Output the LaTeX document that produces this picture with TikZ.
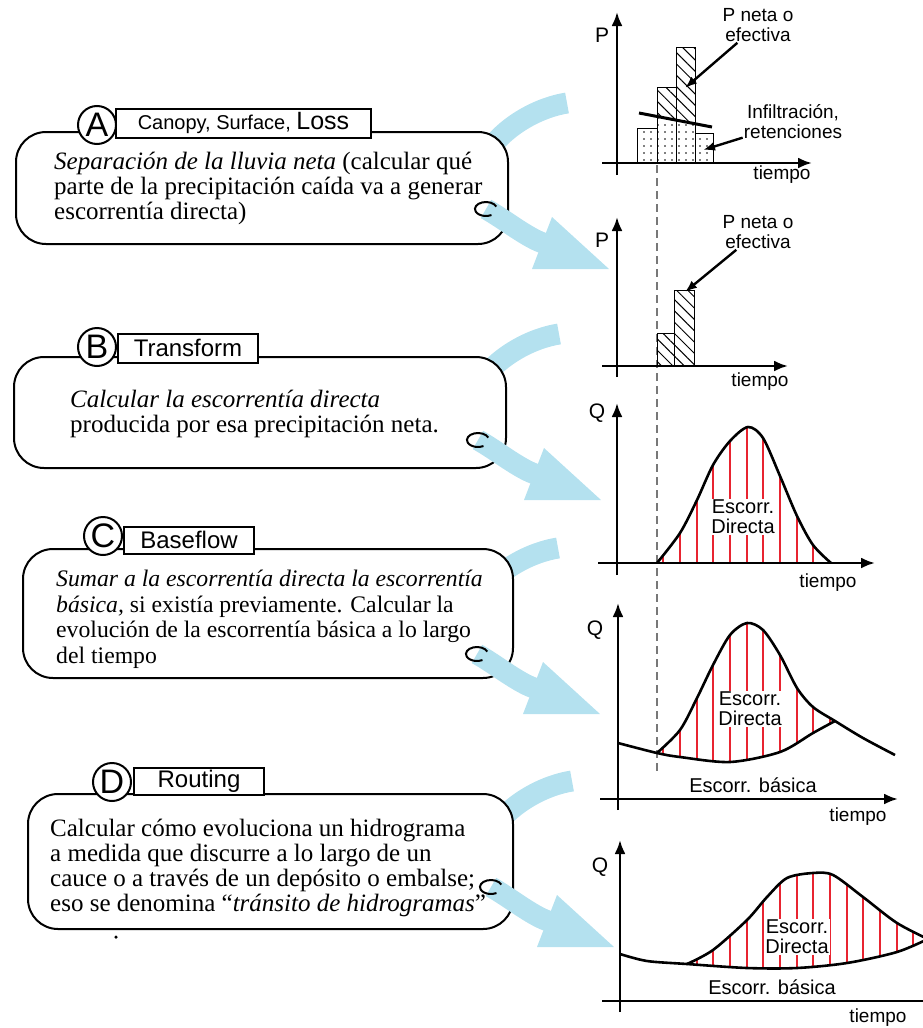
\documentclass[tikz,border=0pt]{standalone}
\usepackage{fontspec}
\setmainfont{Liberation Serif}
\setsansfont{Liberation Sans}
\usetikzlibrary{calc,arrows.meta,patterns.meta,positioning}

\definecolor{flowblue}{RGB}{180,225,239}
\definecolor{hydrored}{RGB}{232,36,48}
\definecolor{guidegray}{RGB}{120,120,120}

\newcommand{\bodyfont}{\fontsize{25}{25}\selectfont}
\newcommand{\tagfont}{\sffamily\fontsize{24}{26}\selectfont}
\newcommand{\smallfont}{\sffamily\fontsize{19}{20}\selectfont}

\begin{document}
\begin{tikzpicture}[x=1pt,y=-1pt,>={Latex[length=14pt,width=11pt]},
  stage/.style={draw, line width=2pt, rounded corners=30pt, fill=white, inner sep=0pt, anchor=north west},
  body/.style={align=left, anchor=north west, inner sep=0pt, font=\bodyfont},
  letter/.style={circle, draw, line width=2pt, fill=white, minimum size=38pt, inner sep=0pt, font=\sffamily\fontsize{34}{34}\selectfont},
  tagbox/.style={draw, line width=2pt, fill=white, anchor=west, inner sep=0pt, minimum height=29pt, font=\tagfont},
  axis/.style={line width=2.6pt, ->},
  pointer/.style={line width=2.4pt, -{Latex[length=12pt,width=9pt]}},
  axlab/.style={font=\sffamily\fontsize{21}{21}\selectfont},
  small/.style={font=\smallfont, align=center, inner sep=1pt},
  bar/.style={draw, line width=0.9pt},
  hatch/.style={pattern={Lines[angle=-45,distance=8pt,line width=1pt]}},
  dotty/.style={pattern={Dots[distance=7pt,radius=0.8pt]}},
  curve/.style={line width=2.6pt, line join=round},
  runoff/.style={hydrored, line width=1.6pt},
  guide/.style={guidegray, line width=1.2pt, dash pattern=on 8pt off 5pt},
  flow/.style={flowblue, line width=21pt},
  curl/.style={line width=2pt}]

  \useasboundingbox (0,0) rectangle (923,1028);
  \clip (0,0) rectangle (923,1028);

  % where the flows come out of the boxes
  \coordinate (curlA) at (486,209);
  \coordinate (curlB) at (478,440);
  \coordinate (curlC) at (477,654);
  \coordinate (curlD) at (491,887);

  % blue arcs behind the boxes
  \foreach \cu in {curlA,curlB,curlC,curlD}
    \draw[flow] ($(\cu)+(0,-55)$) .. controls ($(\cu)+(20,-85)$) and ($(\cu)+(55,-102)$) .. ($(\cu)+(81,-106)$);

  % the four steps
  \node[stage, minimum width=492pt, minimum height=112pt] (boxA) at (15,131) {};
  \node[stage, minimum width=492pt, minimum height=111pt] (boxB) at (13,356) {};
  \node[stage, minimum width=490pt, minimum height=129pt] (boxC) at (22,548) {};
  \node[stage, minimum width=485pt, minimum height=135pt] (boxD) at (27,793) {};

  \node[body] (txtA) at (54,152) {{\itshape Separación de la lluvia neta} (calcular qué\\parte de la precipitación caída va a generar\\escorrentía directa)};
  \node[body] (txtB) at (70,390) {{\itshape Calcular la escorrentía directa}\\producida por esa precipitación neta.};
  \node[body, font=\fontsize{23.7}{25.5}\selectfont] (txtC) at (56,570) {{\itshape Sumar a la escorrentía directa la escorrentía}\\{\itshape básica,} si existía previamente. Calcular la\\evolución de la escorrentía básica a lo largo\\del tiempo};
  \node[body] (txtD) at (50,819) {Calcular cómo evoluciona un hidrograma\\a medida que discurre a lo largo de un\\cauce o a través de un depósito o embalse;\\eso se denomina “{\itshape tránsito de hidrogramas}”};

  \node[tagbox, minimum width=255pt, font=\sffamily\fontsize{20}{22}\selectfont] (tagA) at (115,123) {Canopy, Surface, {\fontsize{25}{25}\selectfont Loss}};
  \node[tagbox, minimum width=140pt] (tagB) at (117,348) {Transform};
  \node[tagbox, minimum width=130pt, minimum height=27pt] (tagC) at (123,540) {Baseflow};
  \node[tagbox, minimum width=130pt, minimum height=27pt] (tagD) at (133,781) {Routing};
  \node[letter] (letA) at (97,125) {A};
  \node[letter] (letB) at (97,347) {B};
  \node[letter] (letC) at (103,536) {C};
  \node[letter] (letD) at (112,782) {D};
  \node[circle, fill, inner sep=0pt, minimum size=3.5pt] (speck) at (116,937) {};

  % blue arrows out of the curls
  \foreach \cu in {curlA,curlB,curlC,curlD}{
    \draw[flow] (\cu) .. controls ($(\cu)+(18,10)$) and ($(\cu)+(40,28)$) .. ($(\cu)+(57,34)$);
    \fill[flowblue] ($(\cu)+(66,8)$) -- ($(\cu)+(46,60)$) -- ($(\cu)+(123,60)$) -- cycle;
    \draw[curl] ($(\cu)+(10.3,-2.4)$) arc[start angle=-20, end angle=-300, x radius=11, y radius=7];
  }

  % common start of the storm
  \draw[guide] (657,165) -- (657,772);

  % graph 1: gross rainfall
  \fill[dotty] (637,128) rectangle (657,163);
  \fill[dotty] (657,116.5) -- (676,120.1) -- (676,163) -- (657,163) -- cycle;
  \fill[dotty] (676,120.1) -- (695,123.8) -- (695,163) -- (676,163) -- cycle;
  \fill[dotty] (695,133) rectangle (713,163);
  \fill[hatch] (657,87) -- (676,87) -- (676,120.1) -- (657,116.5) -- cycle;
  \fill[hatch] (676,47) -- (695,47) -- (695,123.8) -- (676,120.1) -- cycle;
  \draw[bar] (637,128) rectangle (657,163) (657,87) rectangle (676,163)
    (676,47) rectangle (695,163) (695,133) rectangle (713,163);
  \draw[line width=3pt] (639,113) -- (712,127);
  \draw[axis] (602,163) -- (812,163);
  \draw[axis] (617,175) -- (617,12);
  \node[axlab] (p1) at (602,35) {P};
  \node[small] (t1) at (782,175) {tiempo};
  \node[small] (neta1) at (758,25) {P neta o\\efectiva};
  \node[small] (infil) at (793,122) {Infiltración,\\retenciones};
  \coordinate (hit1) at (685,88);
  \coordinate (hit2) at (703,150);
  \draw[pointer] (neta1) -- (hit1);
  \draw[pointer] (infil) -- (hit2);

  % graph 2: net rainfall
  \fill[hatch] (657,333) rectangle (674,366);
  \fill[hatch] (674,290) rectangle (694,366);
  \draw[bar] (657,333) rectangle (674,366) (674,290) rectangle (694,366);
  \draw[axis] (602,366) -- (788,366);
  \draw[axis] (617,377) -- (617,217);
  \node[axlab] (p2) at (602,240) {P};
  \node[small] (t2) at (760,382) {tiempo};
  \node[small] (neta2) at (758,232) {P neta o\\efectiva};
  \coordinate (hit3) at (685,292);
  \draw[pointer] (neta2) -- (hit3);

  % graph 3: direct runoff
  \begin{scope}
    \clip plot[smooth] coordinates {(657,563) (680,533) (697,500) (713,465) (730,441) (748,427) (763,438) (780,476) (797,516) (813,545) (831,563)} -- cycle;
    \foreach \x in {663,680,697,713,730,747,763,780,797,813}
      \draw[runoff] (\x,420) -- (\x,563);
  \end{scope}
  \draw[curve] plot[smooth] coordinates {(657,563) (680,533) (697,500) (713,465) (730,441) (748,427) (763,438) (780,476) (797,516) (813,545) (831,563)};
  \draw[axis] (598,563) -- (875,563);
  \draw[axis] (617,575) -- (617,403);
  \node[axlab] (q3) at (597,413) {Q};
  \node[small] (t3) at (828,583) {tiempo};
  \node[small, fill=white, font=\sffamily\fontsize{20}{20}\selectfont] (dir3) at (743,517) {Escorr.\\Directa};

  % graph 4: plus base flow
  \begin{scope}
    \clip plot[smooth] coordinates {(657,753) (680,730) (697,698) (713,665) (730,635) (747,623) (763,630) (780,655) (797,688) (813,707) (835,721)}
      -- plot[smooth] coordinates {(835,721) (813,733) (780,752) (730,762) (680,757) (657,753)} -- cycle;
    \foreach \x in {663,680,697,713,730,747,763,780,797,813,830}
      \draw[runoff] (\x,615) -- (\x,770);
  \end{scope}
  \draw[curve] plot[smooth] coordinates {(657,753) (680,730) (697,698) (713,665) (730,635) (747,623) (763,630) (780,655) (797,688) (813,707) (835,721) (863,738) (895,755)};
  \draw[curve] plot[smooth] coordinates {(618,743) (657,753) (680,757) (730,762) (780,752) (813,733) (835,721)};
  \draw[axis] (600,799) -- (898,799);
  \draw[axis] (618,810) -- (618,603);
  \node[axlab] (q4) at (595,630) {Q};
  \node[small] (t4) at (858,817) {tiempo};
  \node[small, fill=white, font=\sffamily\fontsize{20}{20}\selectfont] (dir4) at (750,709) {Escorr.\\Directa};
  \node[small, font=\sffamily\fontsize{20}{20}\selectfont] (base4) at (753,785) {Escorr. básica};

  % graph 5: routed hydrograph
  \begin{scope}
    \clip plot[smooth] coordinates {(687,964) (713,950) (747,920) (767,897) (787,878) (813,873) (833,875) (863,897) (897,923) (930,940)}
      -- plot[smooth] coordinates {(930,940) (897,952) (847,963) (797,968) (747,968) (687,964)} -- cycle;
    \foreach \x in {697,713,730,747,763,780,797,813,830,847,863,880,897,913}
      \draw[runoff] (\x,860) -- (\x,975);
  \end{scope}
  \draw[curve] plot[smooth] coordinates {(687,964) (713,950) (747,920) (767,897) (787,878) (813,873) (833,875) (863,897) (897,923) (930,940)};
  \draw[curve] plot[smooth] coordinates {(620,954) (647,961) (687,964) (747,968) (797,968) (847,963) (897,952) (930,938)};
  \draw[line width=2.6pt] (602,1001) -- (923,1001);
  \draw[axis] (620,1012) -- (620,840);
  \node[axlab] (q5) at (600,867) {Q};
  \node[small] (t5) at (878,1018) {tiempo};
  \node[small, fill=white, font=\sffamily\fontsize{20}{20}\selectfont] (dir5) at (797,937) {Escorr.\\Directa};
  \node[small, font=\sffamily\fontsize{20}{20}\selectfont] (base5) at (772,987) {Escorr. básica};
\end{tikzpicture}
\end{document}
